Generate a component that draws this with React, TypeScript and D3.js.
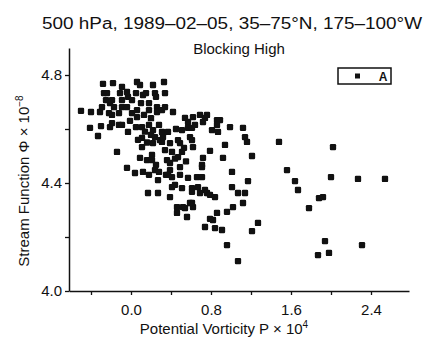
import * as d3 from "d3";
import { useEffect, useRef } from "react";

const titleText = "500 hPa, 1989–02–05, 35–75°N, 175–100°W";
const subtitleText = "Blocking High";
const xLabel = "Potential Vorticity P × 10";
const yLabel = "Stream Function Φ × 10";
const legendLabel = "A";

const xTicks = [-0.4, 0, 0.4, 0.8, 1.2, 1.6, 2.0, 2.4];
const xTickLabels = ["", "0.0", "", "0.8", "", "1.6", "", "2.4"];
const yTicks = [4.0, 4.2, 4.4, 4.6, 4.8];
const yTickLabels = ["4.0", "", "4.4", "", "4.8"];

// [P x10^4, Phi x10^-8]
const coreUpper: [number, number][] = [
  [-0.5, 4.667], [-0.4, 4.663], [-0.41, 4.604], [-0.33, 4.574], [-0.3, 4.611],
  [-0.31, 4.663], [-0.28, 4.767], [-0.27, 4.733], [-0.21, 4.696], [-0.21, 4.607],
  [-0.19, 4.652], [-0.18, 4.77], [-0.14, 4.515], [-0.12, 4.615], [-0.11, 4.733],
  [-0.09, 4.681], [-0.04, 4.456], [-0.03, 4.589], [-0.03, 4.719], [0.06, 4.774],
  [0.04, 4.437], [0.09, 4.763], [0.11, 4.607], [0.12, 4.441], [0.12, 4.726],
  [0.01, 4.659], [0.06, 4.644], [0.09, 4.493], [0.11, 4.533], [0.16, 4.485],
  [0.17, 4.363], [0.22, 4.763], [0.24, 4.733], [0.26, 4.681], [0.26, 4.663],
  [0.22, 4.596], [0.24, 4.57], [0.22, 4.548], [0.21, 4.485], [0.24, 4.448],
  [0.27, 4.411], [0.27, 4.363], [0.33, 4.774], [0.34, 4.733], [0.34, 4.681],
  [0.42, 4.663], [0.39, 4.348], [0.29, 4.559], [0.34, 4.522], [0.36, 4.485],
  [-0.09, 4.756], [0.25, 4.719], [0.15, 4.733], [0.05, 4.733], [-0.04, 4.737],
  [-0.24, 4.733], [-0.25, 4.707], [-0.19, 4.707], [-0.09, 4.707], [0.01, 4.707],
  [0.1, 4.696], [0.18, 4.696], [0.31, 4.67], [-0.29, 4.681], [-0.17, 4.681],
  [-0.04, 4.681], [0.06, 4.67], [0.18, 4.67], [-0.22, 4.659], [-0.12, 4.659],
  [0.13, 4.652], [-0.19, 4.622], [-0.09, 4.615], [0.05, 4.607], [0.18, 4.615],
  [0.28, 4.615], [0.11, 4.567], [0.2, 4.578], [0.21, 4.504], [0.25, 4.467],
  [0.18, 4.43], [0.31, 4.589], [0.31, 4.552], [0.28, 4.441], [0.35, 4.43],
  [0.14, 4.59], [0.16, 4.55], [0.07, 4.56], [-0.01, 4.63], [0.2, 4.64],
];

const coreLower: [number, number][] = [
  [0.39, 4.448], [0.32, 4.57], [0.39, 4.548], [0.41, 4.422], [0.44, 4.393],
  [0.46, 4.311], [0.46, 4.289], [0.47, 4.496], [0.49, 4.548], [0.49, 4.459],
  [0.52, 4.311], [0.56, 4.274], [0.57, 4.626], [0.57, 4.604], [0.59, 4.57],
  [0.61, 4.326], [0.62, 4.533], [0.62, 4.644], [0.62, 4.311], [0.66, 4.422],
  [0.67, 4.385], [0.69, 4.652], [0.72, 4.626], [0.72, 4.493], [0.71, 4.459],
  [0.74, 4.374], [0.76, 4.652], [0.76, 4.363], [0.74, 4.237], [0.79, 4.356],
  [0.81, 4.596], [0.82, 4.263], [0.84, 4.233], [0.86, 4.633], [0.86, 4.289],
  [0.89, 4.633], [0.91, 4.226], [0.94, 4.541], [0.92, 4.493], [0.96, 4.17],
  [0.99, 4.607], [1.01, 4.441], [1.01, 4.385], [1.02, 4.311], [1.07, 4.111],
  [1.12, 4.604], [1.14, 4.57], [1.16, 4.552], [0.79, 4.519], [0.71, 4.467],
  [0.71, 4.422], [1.17, 4.407], [1.07, 4.363], [1.14, 4.363], [0.84, 4.348],
  [1.12, 4.326], [0.96, 4.293], [1.27, 4.252], [1.21, 4.222], [1.21, 4.5],
  [0.37, 4.589], [0.51, 4.596], [0.61, 4.604], [0.64, 4.615], [0.47, 4.559],
  [0.61, 4.559], [0.41, 4.515], [0.51, 4.515], [0.39, 4.474], [0.37, 4.43],
  [0.49, 4.43], [0.57, 4.419], [0.41, 4.385], [0.51, 4.381], [0.61, 4.381],
  [0.87, 4.589], [0.86, 4.615], [0.61, 4.367], [0.69, 4.363], [0.54, 4.307],
  [0.59, 4.326], [0.79, 4.267], [0.54, 4.641], [0.74, 4.641],
  [0.44, 4.49], [0.55, 4.48], [0.45, 4.6], [0.53, 4.53],
];

const tail: [number, number][] = [
  [1.48, 4.552], [1.56, 4.448], [1.64, 4.407], [1.67, 4.374], [1.78, 4.307],
  [1.88, 4.344], [1.92, 4.348], [2.02, 4.533], [2.0, 4.422], [2.27, 4.415],
  [2.54, 4.415], [1.94, 4.185], [1.87, 4.133], [1.98, 4.141], [2.31, 4.17],
];

export default function App() {
  const ref = useRef<SVGSVGElement>(null);

  useEffect(() => {
    const svg = d3.select(ref.current);
    svg.selectAll("*").remove();

    const width = 426;
    const height = 339;
    const font = "'Liberation Sans', Arial, sans-serif";
    const ink = "#111";

    const x = d3.scaleLinear().domain([-0.62, 2.78]).range([69, 409]);
    const y = d3.scaleLinear().domain([4.0, 4.9]).range([291, 48]);

    svg.attr("width", width).attr("height", height).attr("viewBox", `0 0 ${width} ${height}`);

    // titles
    svg.append("text")
      .attr("x", 232).attr("y", 29)
      .attr("text-anchor", "middle")
      .attr("font-family", font).attr("font-size", 16).attr("fill", ink)
      .attr("textLength", 380).attr("lengthAdjust", "spacingAndGlyphs")
      .text(titleText);
    svg.append("text")
      .attr("x", 239).attr("y", 54)
      .attr("text-anchor", "middle")
      .attr("font-family", font).attr("font-size", 15).attr("fill", ink)
      .text(subtitleText);

    // axes
    const xAxis = d3.axisBottom(x)
      .tickValues(xTicks)
      .tickSize(4).tickSizeOuter(0).tickPadding(6)
      .tickFormat((_, i) => xTickLabels[i]);
    const gx = svg.append("g").attr("transform", `translate(0,${y(4.0)})`).call(xAxis);

    const yAxis = d3.axisLeft(y)
      .tickValues(yTicks)
      .tickSize(4).tickSizeOuter(0).tickPadding(3)
      .tickFormat((_, i) => yTickLabels[i]);
    const gy = svg.append("g").attr("transform", `translate(${x(-0.62)},0)`).call(yAxis);

    [gx, gy].forEach((g) => {
      g.select(".domain").attr("stroke", ink).attr("stroke-width", 1.5);
      g.selectAll(".tick line").attr("stroke", ink).attr("stroke-width", 1.3);
      g.selectAll(".tick text")
        .attr("font-family", font).attr("font-size", 15).attr("fill", ink);
    });
    gx.selectAll(".tick text").attr("dy", "0.9em");

    // axis titles
    const xt = svg.append("text")
      .attr("x", 224).attr("y", 334)
      .attr("text-anchor", "middle")
      .attr("font-family", font).attr("font-size", 15).attr("fill", ink)
      .text(xLabel);
    xt.append("tspan").attr("dy", -6).attr("font-size", 10).text("4");

    const yt = svg.append("text")
      .attr("transform", `translate(29,181) rotate(-90)`)
      .attr("text-anchor", "middle")
      .attr("font-family", font).attr("font-size", 15).attr("fill", ink)
      .text(yLabel);
    yt.append("tspan").attr("dy", -6).attr("font-size", 10).text("−8");

    // points
    const s = 6.3;
    const all = [...coreUpper, ...coreLower, ...tail];
    svg.append("g")
      .selectAll("rect")
      .data(all)
      .enter()
      .append("rect")
      .attr("x", (d) => x(d[0]) - s / 2)
      .attr("y", (d) => y(d[1]) - s / 2)
      .attr("width", s)
      .attr("height", s)
      .attr("rx", 1.2)
      .attr("fill", ink);

    // legend
    const lg = svg.append("g");
    lg.append("rect")
      .attr("x", 338).attr("y", 68).attr("width", 53).attr("height", 16)
      .attr("fill", "white").attr("stroke", ink).attr("stroke-width", 1.5);
    lg.append("rect")
      .attr("x", 355).attr("y", 73.5).attr("width", 5).attr("height", 5).attr("fill", ink);
    lg.append("text")
      .attr("x", 383).attr("y", 81)
      .attr("text-anchor", "middle")
      .attr("font-family", font).attr("font-size", 12).attr("font-weight", "bold").attr("fill", ink)
      .text(legendLabel);
  }, []);

  return (
    <div style={{ position: "absolute", left: 0, top: 0, background: "white" }}>
      <svg ref={ref} style={{ display: "block" }} />
    </div>
  );
}
